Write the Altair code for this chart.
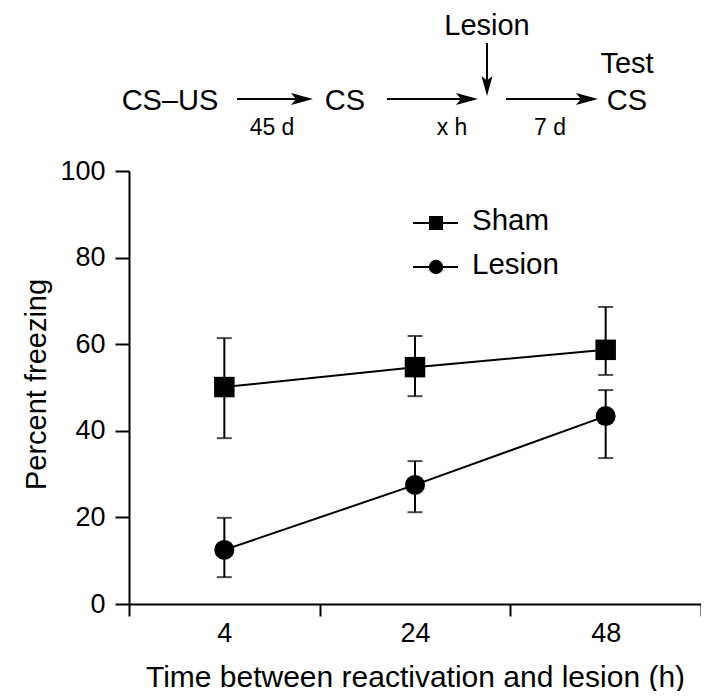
import altair as alt
import pandas as pd

# ---- data ----
times = ["4", "24", "48"]
series = ["Sham", "Lesion"]
sham_mean = [50.1, 54.7, 58.7]
sham_lo = [38.3, 48.0, 52.9]
sham_hi = [61.4, 61.9, 68.6]
lesion_mean = [12.5, 27.5, 43.4]
lesion_lo = [6.2, 21.2, 33.7]
lesion_hi = [19.9, 33.0, 49.4]

rows = []
for s, m, lo, hi in [("Sham", sham_mean, sham_lo, sham_hi),
                     ("Lesion", lesion_mean, lesion_lo, lesion_hi)]:
    for t, a, b, c in zip(times, m, lo, hi):
        rows.append({"time": t, "group": s, "mean": a, "lo": b, "hi": c})
df = pd.DataFrame(rows)

FONT = "Liberation Sans"
W, H = 572, 433

x_enc = alt.X("time:N", sort=times,
              scale=alt.Scale(type="band", paddingInner=0, paddingOuter=0),
              axis=alt.Axis(title="Time between reactivation and lesion (h)",
                            labelAngle=0, tickBand="extent", tickSize=12,
                            labelPadding=4, labelFontSize=27, titleFontSize=30,
                            titleY=82, titleBaseline="alphabetic"))
y_enc = alt.Y("mean:Q", scale=alt.Scale(domain=[0, 100]),
              axis=alt.Axis(title="Percent freezing", values=[0, 20, 40, 60, 80, 100],
                            tickSize=14, labelPadding=10, labelFontSize=27,
                            titleFontSize=29, titleX=-84, titleY=213,
                            titleBaseline="alphabetic"))

base = alt.Chart(df)

err = base.mark_rule(color="black", strokeWidth=2).encode(
    x=x_enc, y=alt.Y("lo:Q"), y2="hi:Q", detail="group:N")
cap_lo = base.mark_tick(color="black", size=15, thickness=2).encode(
    x=x_enc, y=alt.Y("lo:Q"))
cap_hi = base.mark_tick(color="black", size=15, thickness=2).encode(
    x=x_enc, y=alt.Y("hi:Q"))
line = base.mark_line(color="black", strokeWidth=2).encode(
    x=x_enc, y=y_enc, detail="group:N")
pts = base.mark_point(filled=True, color="black", opacity=1).encode(
    x=x_enc, y=y_enc,
    shape=alt.Shape("group:N", scale=alt.Scale(domain=series, range=["square", "circle"]),
                    legend=None),
    size=alt.Size("group:N", scale=alt.Scale(domain=series, range=[420, 400]),
                  legend=None))

one = alt.Data(values=[{}])


def txt(s, x, y, size=29, align="center"):
    return alt.Chart(one).mark_text(text=s, font=FONT, fontSize=size, align=align,
                                    baseline="middle", color="black").encode(
        x=alt.value(x), y=alt.value(y))


def hrule(x1, x2, y):
    return alt.Chart(one).mark_rule(color="black", strokeWidth=2).encode(
        x=alt.value(x1), x2=alt.value(x2), y=alt.value(y))


def vrule(x, y1, y2):
    return alt.Chart(one).mark_rule(color="black", strokeWidth=2).encode(
        x=alt.value(x), y=alt.value(y1), y2=alt.value(y2))


RIGHT_HEAD = "M1,0L-1,-0.55L-0.55,0L-1,0.55Z"
DOWN_HEAD = "M0,1L-0.55,-1L0,-0.55L0.55,-1Z"


def head(x, y, path, size=484):
    return alt.Chart(one).mark_point(shape=path, filled=True, color="black",
                                     opacity=1, size=size).encode(
        x=alt.value(x), y=alt.value(y))


def harrow(x1, tip, y):
    return [hrule(x1, tip - 11, y), head(tip - 11, y, RIGHT_HEAD)]


# plot-area origin sits at page (129, 171)
diagram = [
    txt("Lesion", 358, -145),
    vrule(358, -128, -86), head(358, -85, DOWN_HEAD, 400),
    txt("Test", 498, -107),
    txt("CS\u2013US", 41, -70),
    *harrow(108, 184, -72),
    txt("CS", 216, -70),
    *harrow(258, 349, -72),
    *harrow(377, 469, -72),
    txt("CS", 498, -70),
    txt("45 d", 143, -43, 23),
    txt("x h", 323, -43, 23),
    txt("7 d", 421, -43, 23),
]

legend = [
    hrule(284, 329, 52), head(307, 52, "square", 196), txt(series[0], 343, 50, 29.5, "left"),
    hrule(284, 329, 96), head(307, 96, "circle", 210), txt(series[1], 343, 94, 29.5, "left"),
]

chart = alt.layer(err, cap_lo, cap_hi, line, pts, *legend, *diagram).properties(
    width=W, height=H,
    autosize=alt.AutoSizeParams(type="none"),
    padding={"left": 121, "top": 163, "right": 0, "bottom": 87},
).configure_view(stroke=None).configure_axis(
    grid=False, domainColor="black", domainWidth=2, tickColor="black", tickWidth=2,
    labelColor="black", titleColor="black", labelFont=FONT, titleFont=FONT,
    titleFontWeight="normal",
).configure_text(font=FONT)

chart.save("out.html", embed_options={"renderer": "svg", "actions": False})
